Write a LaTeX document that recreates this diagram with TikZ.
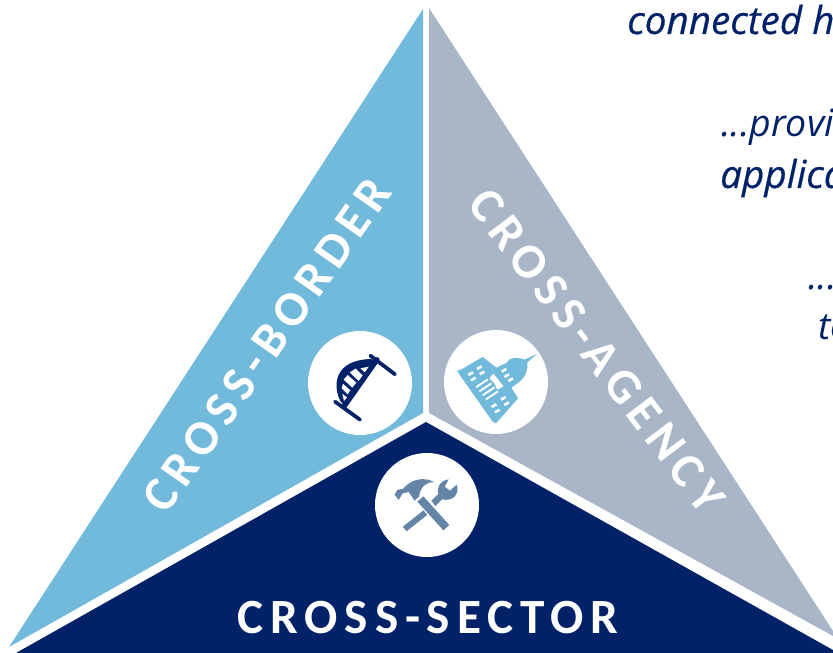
\documentclass[tikz,border=0pt]{standalone}
\usepackage{fontspec}
\setmainfont{Open Sans}
\newfontfamily\labelfont{Carlito}
\newfontfamily\quotedarkfont[ItalicFeatures={FakeBold=0.5}]{Open Sans}
\definecolor{navyfill}{HTML}{012169}
\definecolor{skyfill}{HTML}{71BADB}
\definecolor{grayfill}{HTML}{A9B6C8}
\definecolor{toolfill}{HTML}{6484A8}
\tikzset{
  sidelabel/.style={text=white,font=\labelfont\bfseries\fontsize{42}{42}\selectfont},
  iconback/.style={circle,fill=white,minimum size=3.12cm,inner sep=0pt},
  quotethin/.style={text=navyfill,anchor=base west,inner sep=0pt,font=\itshape\fontsize{32}{32}\selectfont},
  quotedark/.style={quotethin,font=\quotedarkfont\itshape\fontsize{33}{33}\selectfont}
}
\begin{document}
\begin{tikzpicture}[x=0.03cm,y=-0.03cm]
  \useasboundingbox (0,0) rectangle (833,653);
  \clip (0,0) rectangle (833,653);
  % three sides
  \fill[skyfill] (423,9) -- (423,413) -- (9,647) -- cycle;
  \fill[grayfill] (429,8) -- (429,413) -- (833,636) -- (833,631) -- cycle;
  \fill[navyfill] (426,422) -- (833,650) -- (833,653) -- (16,653) -- cycle;
  % side names
  \node[sidelabel,rotate=55] (border) at (267,345) {\addfontfeature{LetterSpace=14}CROSS-BORDER};
  \node[sidelabel,rotate=-52.9] (agency) at (597,351) {\addfontfeature{LetterSpace=14}CROSS-AGENCY};
  \node[sidelabel] (sector) at (428,618) {\addfontfeature{LetterSpace=14}CROSS-SECTOR};
  % icon circles
  \node[iconback] (bridge) at (360,383) {};
  \node[iconback] (capitol) at (496,382) {};
  \node[iconback] (tools) at (427,505) {};
  % bridge
  \begin{scope}[shift={(325,345)},scale=1/3]
    \fill[navyfill] (46,168) .. controls (22,120) and (28,45) .. (138,42) -- (150,50) -- (60,185) -- cycle;
    \fill[white] (106,70) -- (136,64) -- (122,84) -- cycle;
    \fill[white] (74,82) -- (92,71) -- (116,94) -- (101,108) -- cycle;
    \fill[white] (56,104) -- (68,90) -- (94,113) -- (82,128) -- cycle;
    \fill[white] (50,130) -- (54,116) -- (76,136) -- (68,148) -- cycle;
    \fill[white] (52,146) -- (66,158) -- (57,168) -- cycle;
    \draw[navyfill,line width=4.4pt,line cap=round] (56,186) -- (156,44);
    \draw[navyfill,line width=3.2pt,line cap=round] (136,32) -- (210,88);
    \draw[navyfill,line width=3.2pt,line cap=round] (30,170) -- (105,224);
  \end{scope}
  % capitol
  \begin{scope}[shift={(452,345)},scale=1/3]
    \fill[skyfill] (15,78) -- (30,72) -- (92,36) -- (133,68) -- (163,54) -- (172,44)
      .. controls (185,36) and (205,38) .. (218,44) -- (255,27) -- (226,52)
      .. controls (228,75) and (222,95) .. (200,112) -- (178,128) -- (198,160)
      -- (132,235) -- (122,230) -- cycle;
    \foreach \a/\b in {56/86,82/68,64/102,90/84,156/76,164/92,176/104,
                       154/160,164/176,126/182,136/198} {
      \draw[white,line width=2.2pt] (\a-7,\b+4) -- (\a+7,\b-4);
    }
    \foreach \a in {0,1,2,3} {
      \draw[white,line width=1.6pt] (72+\a*10,127+\a*12) -- (108+\a*10,103+\a*12);
    }
    \fill[white] (112,100) -- (124,86) -- (155,124) -- (136,134) -- (128,116) -- cycle;
  \end{scope}
  % hammer and wrench
  \begin{scope}[shift={(390,470)},scale=1/3]
    \draw[toolfill,line width=5pt] (44,177) -- (106,128);
    \fill[toolfill] (124,92) -- (145,72) .. controls (140,50) and (150,32) .. (176,28)
      -- (164,50) -- (180,62) -- (200,44) .. controls (210,70) and (190,96) .. (156,88)
      -- (136,108) -- cycle;
    \draw[toolfill,line width=6.8pt] (91,87) -- (169,173);
    \fill[toolfill] (14,74) -- (22,60) -- (40,56) .. controls (60,30) and (100,18) .. (132,36)
      .. controls (108,36) and (90,52) .. (88,78) -- (74,92) -- (56,66) -- (38,70) -- (26,90) -- cycle;
  \end{scope}
  % cut-off text at the right
  \node[quotedark] (connected) at (627,34) {connected h};
  \node[quotethin] (provi) at (721,137) {...provi};
  \node[quotedark] (applica) at (720,188) {applica};
  \node[quotethin] (dots) at (808,290) {...};
  \node[quotethin] (tletter) at (818,340) {to};
\end{tikzpicture}
\end{document}
